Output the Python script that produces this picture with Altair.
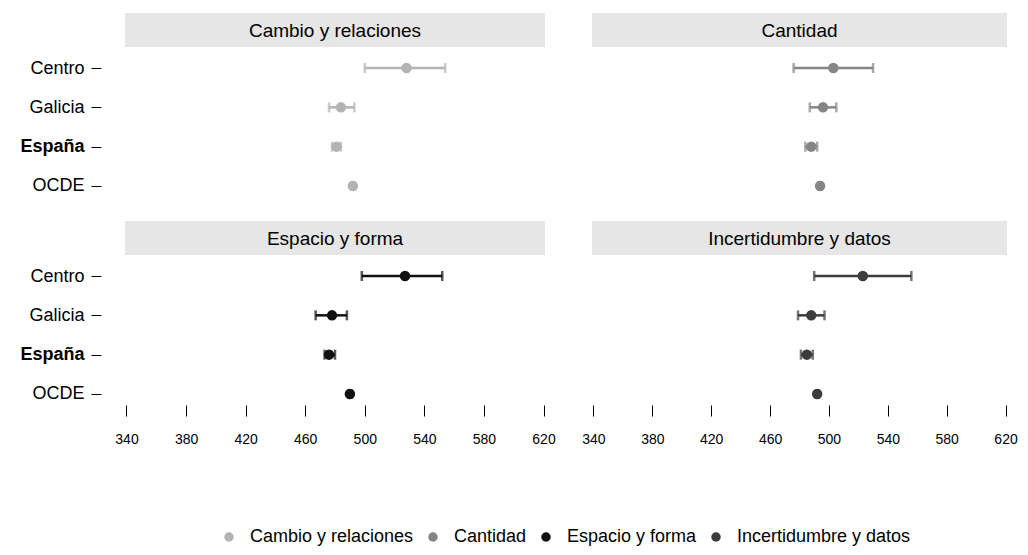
import altair as alt
import pandas as pd

regions = ["Centro", "Galicia", "España", "OCDE"]
subjects = ["Cambio y relaciones", "Cantidad", "Espacio y forma", "Incertidumbre y datos"]
colors = ["#b3b3b3", "#858585", "#111111", "#3c3c3c"]

mean_cambio = [528, 484, 481, 492]
lo_cambio = [500, 476, 478, 491]
hi_cambio = [554, 493, 484, 493]

mean_cantidad = [503, 496, 488, 494]
lo_cantidad = [476, 487, 484, 493]
hi_cantidad = [530, 505, 492, 495]

mean_espacio = [527, 478, 476, 490]
lo_espacio = [498, 467, 473, 489]
hi_espacio = [552, 488, 480, 491]

mean_incert = [523, 488, 485, 492]
lo_incert = [490, 479, 481, 491]
hi_incert = [556, 497, 489, 493]

x_ticks = [340, 380, 420, 460, 500, 540, 580, 620]

series = {
    "Cambio y relaciones": (mean_cambio, lo_cambio, hi_cambio),
    "Cantidad": (mean_cantidad, lo_cantidad, hi_cantidad),
    "Espacio y forma": (mean_espacio, lo_espacio, hi_espacio),
    "Incertidumbre y datos": (mean_incert, lo_incert, hi_incert),
}

rows = []
for s, (m, lo, hi) in series.items():
    for r, mv, lv, hv in zip(regions, m, lo, hi):
        rows.append({"subject": s, "region": r, "mean": mv, "lo": lv, "hi": hv})
df = pd.DataFrame(rows)

H = 140
XDOM = [339, 621]

yaxis = alt.Axis(
    domain=False, grid=False, ticks=True, tickSize=10, tickColor="#000000",
    labelPadding=7, offset=24, minExtent=88, maxExtent=88, labelFontSize=18,
    labelColor="#000000",
    labelFontWeight=alt.ExprRef(expr="datum.value == 'España' ? 'bold' : 'normal'"),
)
xaxis = alt.Axis(
    values=x_ticks, domain=False, grid=False, tickSize=11, tickColor="#000000",
    labelPadding=16, labelFontSize=14, labelColor="#000000", labelFlush=False,
)


def panel(subj, show_y, show_x, W):
    d = df[df.subject == subj]
    col = colors[subjects.index(subj)]
    ysc = alt.Scale(type="point", padding=0.28)
    xsc = alt.Scale(domain=XDOM, nice=False, zero=False)
    yenc = alt.Y("region:N", sort=regions, scale=ysc, axis=yaxis if show_y else None, title=None)
    head_df = pd.DataFrame({"subject": [subj]})
    header = alt.Chart(head_df).mark_rect(color="#e6e6e6").encode(
        x=alt.value(0), x2=alt.value(W), y=alt.value(-44), y2=alt.value(-10)
    )
    htext = alt.Chart(head_df).mark_text(fontSize=19, color="#000000").encode(
        text="subject:N", x=alt.value(W / 2), y=alt.value(-26)
    )
    bars = alt.Chart(d).mark_errorbar(ticks=True, size=10, thickness=2.5).encode(
        x=alt.X("lo:Q", scale=xsc, axis=xaxis if show_x else None, title=None),
        x2="hi:Q",
        y=yenc,
        color=alt.value(col),
    )
    pts = alt.Chart(d).mark_circle(size=110, opacity=1).encode(
        x=alt.X("mean:Q", scale=xsc, axis=xaxis if show_x else None, title=None),
        y=yenc,
        color=alt.Color(
            "subject:N",
            scale=alt.Scale(domain=subjects, range=colors),
            legend=alt.Legend(
                title=None, orient="none", direction="horizontal",
                legendX=95, legendY=471, labelFontSize=18, symbolSize=90,
                symbolType="circle", columnPadding=10, labelOffset=12,
                labelLimit=400, labelColor="#000000",
            ),
        ),
    )
    return alt.layer(header, htext, bars, pts).properties(width=W, height=H)


chart = alt.concat(
    panel("Cambio y relaciones", True, False, 420),
    panel("Cantidad", False, False, 415),
    panel("Espacio y forma", True, True, 420),
    panel("Incertidumbre y datos", False, True, 415),
    columns=2,
    spacing=alt.RowColnumber(row=24, column=25),
).properties(
    padding={"left": 5, "top": 5, "right": 0, "bottom": 0}
).configure(
    font="Liberation Sans"
).configure_view(stroke=None)

chart.save("out.html", embed_options={"renderer": "svg", "actions": False})
